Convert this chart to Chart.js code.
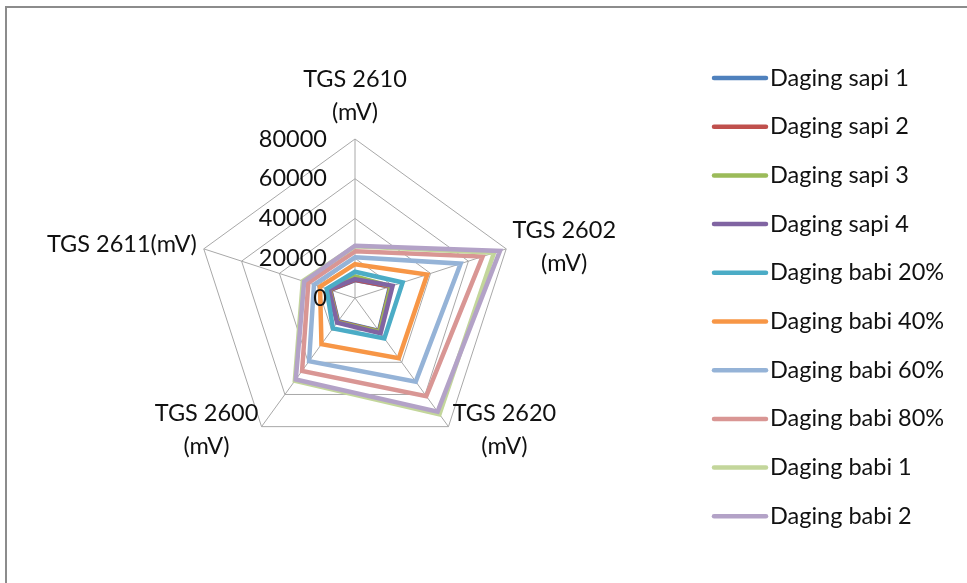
<!DOCTYPE html>
<html>
<head>
<meta charset="utf-8">
<script src="https://cdn.jsdelivr.net/npm/chart.js@4.4.1/dist/chart.umd.min.js"></script>
<style>
  html, body { margin: 0; padding: 0; background: #ffffff; }
  #wrap { width: 967px; height: 583px; position: relative; }
  canvas { display: block; }
</style>
</head>
<body>
<div id="wrap"><canvas id="radar" width="967" height="583"></canvas></div>
<script>
// Sensor axes (clockwise from the top)
const sensors = [["TGS 2610", "(mV)"], ["TGS 2602", "(mV)"], ["TGS 2620", "(mV)"], ["TGS 2600", "(mV)"], ["TGS 2611(mV)"]];
const tickValues = [0, 20000, 40000, 60000, 80000];

const seriesNames = ["Daging sapi 1", "Daging sapi 2", "Daging sapi 3", "Daging sapi 4",
  "Daging babi 20%", "Daging babi 40%", "Daging babi 60%", "Daging babi 80%",
  "Daging babi 1", "Daging babi 2"];

// Sensor responses (mV) per sample, in axis order
const sapi1   = [9000, 18500, 20500, 14500, 13000];
const sapi2   = [9200, 18800, 20800, 14800, 13200];
const sapi3   = [10800, 19000, 21000, 15000, 13500];
const sapi4   = [9500, 19900, 21900, 15300, 13800];
const babi20  = [13200, 25200, 25100, 18900, 15000];
const babi40  = [17000, 38200, 37500, 28700, 18500];
const babi60  = [20500, 55900, 52000, 39300, 21700];
const babi80  = [23500, 67500, 61000, 45300, 24700];
const babi1   = [26000, 73500, 72300, 51500, 27600];
const babi2   = [26300, 76700, 70700, 50700, 26900];

const seriesValues = [sapi1, sapi2, sapi3, sapi4, babi20, babi40, babi60, babi80, babi1, babi2];
const seriesColors = ["#4F81BD", "#C0504D", "#9BBB59", "#8064A2", "#4BACC6",
  "#F79646", "#95B3D7", "#D99694", "#C3D69B", "#B3A2C7"];

const FONT = "23.5px Lato";
const TEXT = "#111111";

// Label anchors relative to each outer vertex
const labelPlace = [
  { dx: 0, dy: -43, align: "center" },
  { dx: 58, dy: -2, align: "center" },
  { dx: 56, dy: 3, align: "center" },
  { dx: -55, dy: 3, align: "center" },
  { dx: -7, dy: -4, align: "right" }
];
const LINE_H = 33;

const decor = {
  id: "decor",
  beforeDraw(chart) {
    const ctx = chart.ctx;
    ctx.save();
    ctx.strokeStyle = "#8c8c8c";
    ctx.lineWidth = 2;
    ctx.beginPath();
    ctx.moveTo(6, 600);
    ctx.lineTo(6, 7);
    ctx.lineTo(980, 7);
    ctx.stroke();
    ctx.restore();
  },
  afterDraw(chart) {
    const ctx = chart.ctx;
    const r = chart.scales.r;
    ctx.save();
    ctx.font = FONT;
    ctx.fillStyle = TEXT;

    // value ticks, left of the vertical spoke
    ctx.textAlign = "right";
    ctx.textBaseline = "middle";
    r.ticks.forEach(t => {
      const y = r.yCenter - r.getDistanceFromCenterForValue(t.value);
      ctx.fillText(t.label, r.xCenter - 28, y);
    });

    // sensor names around the web
    chart.data.labels.forEach((lab, i) => {
      const p = r.getPointPosition(i, r.drawingArea);
      const pl = labelPlace[i];
      const lines = Array.isArray(lab) ? lab : [lab];
      ctx.textAlign = pl.align;
      const y0 = p.y + pl.dy - (lines.length - 1) * LINE_H / 2;
      lines.forEach((s, k) => ctx.fillText(s, p.x + pl.dx, y0 + k * LINE_H));
    });

    // legend
    chart.data.datasets.forEach((ds, i) => {
      const y = 78 + i * 48.7;
      ctx.strokeStyle = ds.borderColor;
      ctx.lineWidth = 4.5;
      ctx.lineCap = "round";
      ctx.beginPath();
      ctx.moveTo(714, y);
      ctx.lineTo(766, y);
      ctx.stroke();
      ctx.textAlign = "left";
      ctx.fillStyle = TEXT;
      ctx.fillText(ds.label, 770, y);
    });
    ctx.restore();
  }
};

new Chart(document.getElementById("radar"), {
  type: "radar",
  data: {
    labels: sensors,
    datasets: seriesNames.map((name, i) => ({
      label: name,
      data: seriesValues[i],
      borderColor: seriesColors[i],
      backgroundColor: "rgba(0,0,0,0)",
      fill: false,
      borderWidth: 4.5,
      pointRadius: 0,
      order: seriesNames.length - 1 - i
    }))
  },
  options: {
    responsive: false,
    animation: false,
    devicePixelRatio: 1,
    layout: { padding: { left: 196, right: 453, top: 13, bottom: 0 } },
    plugins: { legend: { display: false }, tooltip: { enabled: false } },
    elements: { line: { tension: 0, borderJoinStyle: "miter" }, point: { radius: 0 } },
    scales: {
      r: {
        min: 0,
        max: 80000,
        ticks: { stepSize: 20000, display: false, callback: v => String(v) },
        grid: { color: "#a8a8a8", lineWidth: 1 },
        angleLines: { color: "#a8a8a8", lineWidth: 1 },
        pointLabels: { display: false }
      }
    }
  },
  plugins: [decor]
});
</script>
</body>
</html>
